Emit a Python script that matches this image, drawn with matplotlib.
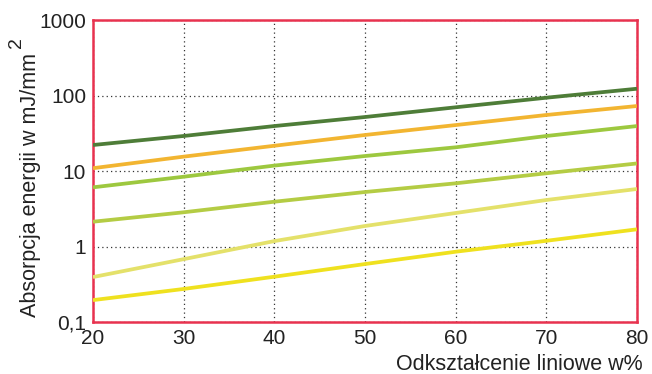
import matplotlib.pyplot as plt
from matplotlib.ticker import FixedLocator, NullLocator

plt.rcParams['font.family'] = ['Liberation Sans', 'DejaVu Sans']

# dane
odksztalcenie = [20, 30, 40, 50, 60, 70, 80]
seria_1 = [22.1, 29.1, 39.4, 51.9, 69.8, 93.5, 123]
seria_2 = [10.9, 15.5, 21.6, 30.0, 40.6, 55.2, 72.6]
seria_3 = [6.08, 8.4, 11.8, 15.8, 20.6, 29.1, 39.4]
seria_4 = [2.13, 2.84, 3.92, 5.27, 6.87, 9.33, 12.6]
seria_5 = [0.394, 0.68, 1.18, 1.87, 2.78, 4.13, 5.78]
seria_6 = [0.195, 0.274, 0.398, 0.586, 0.853, 1.19, 1.69]

kolory = ['#4e7d38', '#f2b531', '#9dc83f', '#b4cc44', '#e4e16a', '#efe11f']
serie = [seria_1, seria_2, seria_3, seria_4, seria_5, seria_6]

y_ticks = [0.1, 1, 10, 100, 1000]
y_labels = ['0,1', '1', '10', '100', '1000']
x_ticks = [20, 30, 40, 50, 60, 70, 80]

fig = plt.figure(figsize=(6.52, 3.74), dpi=100)
ax = fig.add_axes([0.1426, 0.139, 0.977 - 0.1426, 0.9465 - 0.139])

for s, k in zip(serie, kolory):
    ax.plot(odksztalcenie, s, color=k, linewidth=2.7, solid_capstyle='butt', zorder=3)

ax.set_yscale('log')
ax.set_xlim(20, 80)
ax.set_ylim(0.1, 1000)
ax.yaxis.set_major_locator(FixedLocator(y_ticks))
ax.yaxis.set_minor_locator(NullLocator())
ax.set_yticklabels(y_labels)
ax.set_xticks(x_ticks)
ax.tick_params(length=0, labelsize=15, colors='#222222', pad=5)

ax.grid(True, color='#333333', linestyle=(0, (1, 2.5)), linewidth=0.9)

for sp in ax.spines.values():
    sp.set_color('#e8324f')
    sp.set_linewidth(1.8)

# opisy osi
fig.text(0.986, 0.011, 'Odkształcenie liniowe w%', fontsize=15.5, color='#222222',
         ha='right', va='baseline')
fig.text(0.047, 0.506, 'Absorpcja energii w mJ/mm', rotation=90, fontsize=15.5,
         color='#222222', ha='center', va='center')
fig.text(0.026, 0.887, '2', rotation=90, fontsize=14, color='#222222',
         ha='center', va='center')

fig.savefig('out.png', dpi=100)
